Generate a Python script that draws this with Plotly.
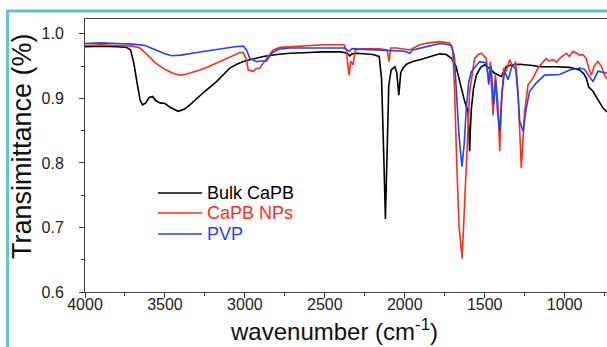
import plotly.graph_objects as go

# ---- data ----
w_bulk = [4000, 3900, 3800, 3740, 3715, 3695, 3675, 3655, 3640, 3620, 3600, 3577, 3560, 3531, 3500,
          3460, 3417, 3380, 3344, 3300, 3250, 3177, 3130, 3094, 3050, 3010, 2950, 2885, 2800, 2719,
          2600, 2512, 2400, 2360, 2344, 2330, 2300, 2200, 2160, 2145, 2130, 2121, 2112, 2100, 2085,
          2062, 2050, 2037, 2025, 2010, 1990, 1950, 1906, 1850, 1781, 1740, 1708, 1680, 1656, 1625,
          1604, 1597, 1594, 1590, 1583, 1570, 1552, 1525, 1500, 1470, 1437, 1396, 1365, 1330, 1281,
          1200, 1156, 1050, 969, 906, 880, 864, 850, 823, 800, 781, 760, 735]
t_bulk = [0.980, 0.981, 0.980, 0.979, 0.975, 0.955, 0.925, 0.897, 0.890, 0.893, 0.901, 0.903, 0.897, 0.893, 0.892,
          0.885, 0.880, 0.883, 0.890, 0.900, 0.911, 0.926, 0.938, 0.947, 0.953, 0.957, 0.961, 0.965, 0.968, 0.970,
          0.971, 0.972, 0.972, 0.970, 0.966, 0.969, 0.970, 0.968, 0.965, 0.930, 0.800, 0.713, 0.800, 0.920, 0.944,
          0.949, 0.940, 0.905, 0.940, 0.947, 0.953, 0.957, 0.960, 0.964, 0.969, 0.968, 0.962, 0.950, 0.926, 0.895,
          0.880, 0.840, 0.818, 0.850, 0.885, 0.915, 0.936, 0.948, 0.952, 0.946, 0.939, 0.934, 0.949, 0.952, 0.953,
          0.951, 0.949, 0.949, 0.948, 0.944, 0.938, 0.931, 0.918, 0.911, 0.902, 0.893, 0.885, 0.879]

w_nps = [4000, 3900, 3800, 3700, 3656, 3620, 3560, 3500, 3450, 3406, 3375, 3330, 3281, 3230, 3177,
         3120, 3073, 3030, 3010, 2990, 2979, 2948, 2930, 2906, 2885, 2865, 2823, 2780, 2719, 2600,
         2510, 2380, 2365, 2356, 2348, 2338, 2330, 2323, 2310, 2250, 2156, 2110, 2098, 2088, 2050,
         1969, 1906, 1850, 1781, 1740, 1719, 1700, 1688, 1675, 1660, 1641, 1628, 1615, 1594, 1563,
         1540, 1521, 1490, 1475, 1465, 1448, 1433, 1417, 1406, 1396, 1381, 1365, 1344, 1323, 1306,
         1292, 1271, 1250, 1229, 1198, 1167, 1115, 1100, 1073, 1050, 1031, 1010, 990, 970, 948,
         925, 906, 885, 865, 850, 833, 815, 792, 770, 750, 735]
t_nps = [0.982, 0.983, 0.982, 0.981, 0.978, 0.970, 0.955, 0.945, 0.939, 0.936, 0.937, 0.940, 0.944, 0.949, 0.955,
         0.962, 0.967, 0.971, 0.971, 0.960, 0.944, 0.942, 0.946, 0.947, 0.955, 0.962, 0.975, 0.979, 0.980, 0.982,
         0.983, 0.983, 0.975, 0.952, 0.936, 0.958, 0.955, 0.952, 0.975, 0.977, 0.977, 0.975, 0.957, 0.978, 0.978,
         0.975, 0.983, 0.986, 0.988, 0.987, 0.986, 0.975, 0.911, 0.800, 0.700, 0.652, 0.720, 0.808, 0.911, 0.962,
         0.968, 0.970, 0.962, 0.921, 0.957, 0.874, 0.936, 0.890, 0.818, 0.885, 0.947, 0.942, 0.960, 0.949, 0.957,
         0.911, 0.792, 0.880, 0.921, 0.931, 0.947, 0.962, 0.958, 0.960, 0.956, 0.962, 0.966, 0.970, 0.965, 0.973,
         0.970, 0.967, 0.968, 0.962, 0.948, 0.936, 0.950, 0.957, 0.950, 0.936, 0.930]

w_pvp = [4000, 3900, 3800, 3700, 3625, 3560, 3500, 3458, 3400, 3300, 3200, 3100, 3063, 3010, 2990,
         2969, 2927, 2900, 2865, 2833, 2790, 2719, 2500, 2375, 2348, 2330, 2250, 2156, 2100, 2000,
         1969, 1950, 1850, 1781, 1740, 1708, 1690, 1677, 1660, 1642, 1628, 1615, 1600, 1583, 1531,
         1490, 1473, 1460, 1444, 1431, 1420, 1406, 1392, 1375, 1354, 1327, 1306, 1290, 1281, 1260,
         1240, 1219, 1177, 1125, 1031, 969, 906, 875, 854, 823, 792, 760, 735]
t_pvp = [0.985, 0.986, 0.985, 0.984, 0.982, 0.975, 0.969, 0.966, 0.967, 0.971, 0.975, 0.978, 0.980, 0.981, 0.975,
         0.962, 0.957, 0.958, 0.958, 0.970, 0.976, 0.978, 0.978, 0.978, 0.973, 0.977, 0.976, 0.975, 0.975, 0.973,
         0.970, 0.975, 0.981, 0.985, 0.984, 0.982, 0.965, 0.911, 0.840, 0.794, 0.830, 0.885, 0.925, 0.942, 0.957,
         0.955, 0.924, 0.950, 0.890, 0.929, 0.880, 0.849, 0.911, 0.942, 0.929, 0.952, 0.945, 0.900, 0.864, 0.849,
         0.885, 0.911, 0.924, 0.936, 0.937, 0.944, 0.947, 0.945, 0.937, 0.926, 0.942, 0.940, 0.939]

names = ["Bulk CaPB", "CaPB NPs", "PVP"]
colors = ["#000000", "#FF2D14", "#1E44FF"]
x_ticks = [4000, 3500, 3000, 2500, 2000, 1500, 1000]
y_ticks = [0.6, 0.7, 0.8, 0.9, 1.0]
x_title = "wavenumber (cm<sup>-1</sup>)"
y_title = "Transimittance (%)"

# plot-area geometry in pixels (for placing legend / titles in paper coordinates)
L, T, W, H = 85, 19, 522, 273
def px(x):
    return (x - L) / W
def py(y):
    return 1 - (y - T) / H

fig = go.Figure()
for (wx, ty), nm, c in zip([(w_bulk, t_bulk), (w_nps, t_nps), (w_pvp, t_pvp)], names, colors):
    fig.add_trace(go.Scatter(x=wx, y=ty, mode="lines", line=dict(color=c, width=1.6),
                             name=nm, showlegend=False))

font_family = "Liberation Sans, Arial, sans-serif"

# legend drawn as line samples + coloured labels
shapes = []
annotations = []
legend_y = [193, 213, 234]
for nm, c, yy in zip(names, colors, legend_y):
    shapes.append(dict(type="line", xref="paper", yref="paper",
                       x0=px(158), x1=px(202), y0=py(yy), y1=py(yy),
                       line=dict(color=c, width=1.6)))
    annotations.append(dict(text=nm, xref="paper", yref="paper", x=px(205), y=py(yy),
                            xanchor="left", yanchor="middle", showarrow=False,
                            font=dict(size=18, color=c, family=font_family)))

annotations.append(dict(text=x_title, xref="paper", yref="paper", x=px(334), y=py(330),
                        xanchor="center", yanchor="middle", showarrow=False,
                        font=dict(size=24, color="#111", family=font_family)))
annotations.append(dict(text=y_title, xref="paper", yref="paper", x=px(22), y=py(146),
                        xanchor="center", yanchor="middle", showarrow=False, textangle=-90,
                        font=dict(size=27, color="#111", family=font_family)))

# outer cyan frame
shapes.append(dict(type="rect", xref="paper", yref="paper",
                   x0=px(7.5), x1=1.05, y0=-0.3, y1=py(11),
                   line=dict(color="#64C2D8", width=3), fillcolor="rgba(0,0,0,0)", layer="above"))

fig.update_layout(
    width=607, height=347,
    margin=dict(l=L, r=0, t=T, b=347 - T - H),
    paper_bgcolor="white", plot_bgcolor="white",
    font=dict(family=font_family, color="#222222"),
    showlegend=False,
    xaxis=dict(range=[4000, 735], tickvals=x_ticks, ticktext=[str(v) for v in x_ticks],
               ticks="outside", ticklen=5, tickwidth=1, tickcolor="#333",
               minor=dict(dtick=250, ticks="outside", ticklen=3, tickcolor="#333", showgrid=False),
               showline=True, linecolor="#444", linewidth=1, mirror=True,
               showgrid=False, zeroline=False, ticklabelstandoff=-7,
               tickfont=dict(size=16)),
    yaxis=dict(range=[0.6, 1.023], tickvals=y_ticks, ticktext=[f"{v:.1f}" for v in y_ticks],
               ticks="outside", ticklen=5, tickwidth=1, tickcolor="#333",
               minor=dict(dtick=0.05, tick0=0.6, ticks="outside", ticklen=3, tickcolor="#333", showgrid=False),
               showline=True, linecolor="#444", linewidth=1,
               showgrid=False, zeroline=False, ticklabelstandoff=12,
               tickfont=dict(size=16)),
    shapes=shapes,
    annotations=annotations,
)

fig.write_html("out.html")
